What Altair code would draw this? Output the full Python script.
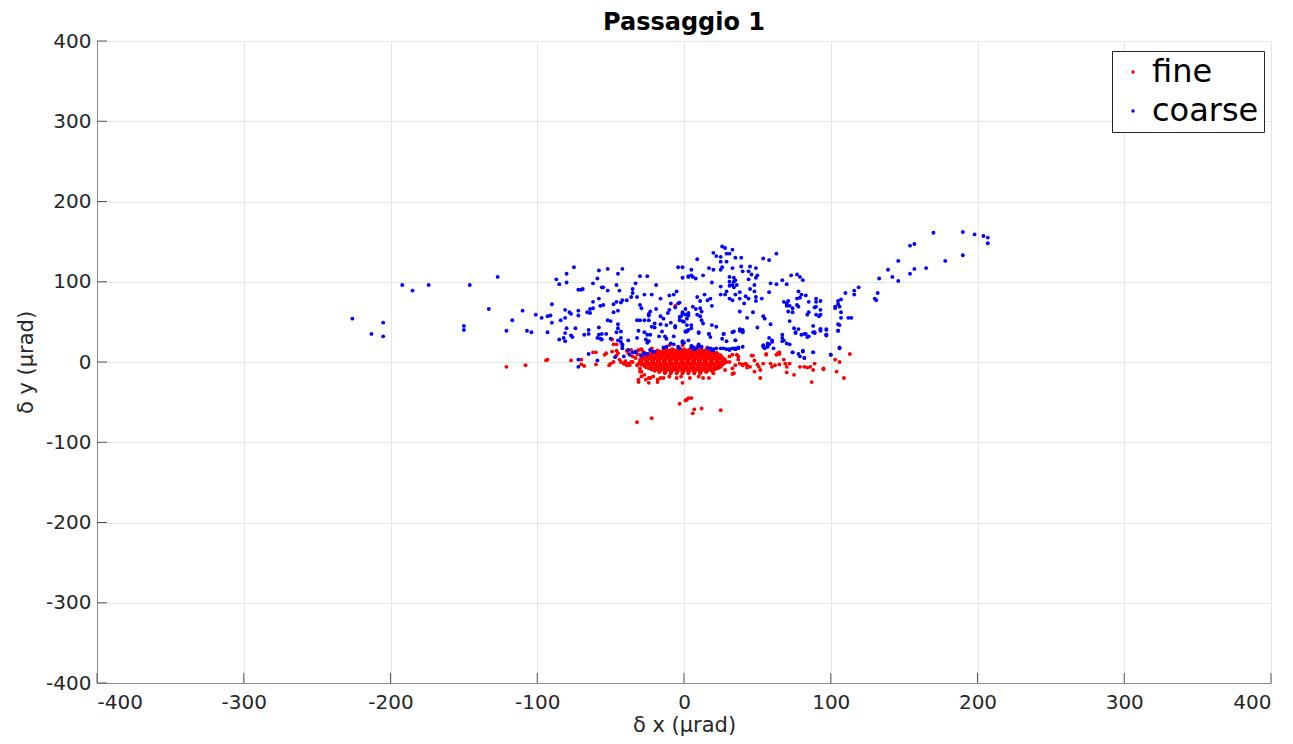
import altair as alt
import pandas as pd

# ---- coarse (blue) points ----
coarse_x = [
 -226,-205,-213,-205,-192,-185,-174,-146,-127,-150,-150,-133,-121,-117,-110,-107,-104,-101,-97,-93,-91,-90,-90,-93,
 -87,-85,-80,-80,-75,-72,-81,-78,-77,-72,-72,-84,-81,-80,-74,-81,-77,-76,-85,-82,-81,-72,-72,
 -58,-52,-42,-45,-30,-25,-4,-1,3,-59,-62,-56,-55,-70,-69,-52,-46,-44,-33,-35,-35,-32,-19,-27,-22,-16,-10,-7,-5,
 -58,-62,-55,-57,-46,-43,-42,-39,-36,-48,-64,-62,-66,-64,-45,-48,-30,-29,-24,-23,-24,-19,-16,-14,-11,-10,-9,-6,-4,-3,
 -1,1,3,3,-2,-1,-3,-32,-30,-27,-24,-20,-22,-20,-16,-12,-9,-6,-6,2,3,1,-52,-50,-45,-45,-43,-46,-58,-68,-65,-65,-58,-59,
 -56,-53,-57,-56,-50,-45,-43,-38,-43,-42,-42,-31,-27,-25,-23,-26,-24,-25,-32,-17,-15,-13,-12,-7,-9,-38,-35,-33,-29,-37,
 -65,-59,-47,-42,-41,-33,-27,-25,-23,-20,-14,-12,-7,-4,0,-3,
 9,20,22,26,28,33,31,29,25,25,29,35,39,54,58,63,5,5,3,6,8,-1,13,17,20,25,26,33,39,40,45,44,46,49,50,49,44,19,25,25,
 31,34,31,34,36,33,31,34,35,29,28,31,33,35,38,38,42,41,44,45,48,48,49,49,53,59,58,63,67,70,73,77,79,81,78,77,80,79,83,
 85,90,90,90,90,92,93,68,70,71,70,70,72,71,74,74,77,78,84,85,89,72,75,76,78,83,85,89,88,93,97,97,67,67,68,70,72,67,
 74,78,81,88,82,58,57,60,61,57,54,55,50,54,55,59,47,38,40,40,33,27,29,38,35,22,19,17,22,31,33,35,27,9,11,14,16,18,19,
 11,12,11,12,13,6,8,9,2,5,1,0,5,2,10,-1,-3,-1,3,6,10,12,16,19,43,
 1,10,17,18,27,26,34,38,40,35,25,31,35,37,40,54,57,58,60,76,80,84,82,88,89,93,97,105,74,79,81,88,100,106,-1,5,8,10,20,18,
 170,190,198,204,207,207,190,178,154,157,146,139,142,146,154,157,165,133,119,116,116,110,107,105,105,103,103,106,107,
 107,112,114,105,106,105,97,97,93,93,93,132,130,131,106,100,
 -27,-21,-1,5,7,20,29,35,37,
]
coarse_y = [
 54,49,35,32,96,89,96,96,106,45,40,66,39,52,64,39,37,59,55,57,58,72,49,37,
 103,97,110,99,118,90,65,62,60,64,58,52,55,42,42,36,33,31,28,30,26,3,-6,
 114,116,116,110,107,107,118,118,107,104,98,93,93,90,91,89,96,89,98,91,86,81,96,84,84,79,83,84,88,
 79,75,71,70,75,74,77,77,81,72,66,67,62,61,64,62,71,67,60,63,58,66,57,54,61,65,73,68,73,74,
 62,66,61,58,57,51,52,52,52,52,52,48,44,43,47,46,49,45,43,46,40,38,52,51,47,42,38,37,43,34,40,35,34,30,
 35,35,29,28,29,27,30,27,25,22,17,39,37,34,34,28,26,24,30,32,38,32,29,32,23,15,12,13,8,9,
 10,2,6,20,7,12,11,10,15,13,18,19,22,19,24,17,
 128,136,132,144,142,140,135,135,131,125,125,130,130,129,127,135,115,108,106,106,104,105,108,117,115,115,118,117,119,113,
 119,113,109,117,108,105,103,99,94,84,
 106,105,100,100,96,96,95,93,102,88,84,79,77,84,87,79,82,73,79,91,96,88,81,76,79,98,87,97,102,97,108,109,106,102,88,
 79,84,80,83,75,79,75,69,59,57,65,75,73,76,70,71,70,63,62,67,71,69,59,62,68,51,42,36,41,35,32,37,45,41,40,34,34,30,27,
 23,22,26,12,10,14,12,5,30,23,25,17,19,21,17,43,57,54,47,62,41,40,38,37,35,26,63,27,44,46,35,17,15,17,17,17,81,76,84,
 77,79,70,67,63,57,52,48,69,66,59,54,46,59,50,42,38,36,60,56,26,27,19,19,19,17,15,55,
 38,37,35,31,35,29,38,39,37,27,17,16,16,18,19,19,21,22,27,37,34,31,35,37,36,39,34,39,12,7,13,12,9,18,24,20,17,22,16,17,
 161,162,159,157,155,148,133,126,145,147,126,115,106,101,110,116,117,104,93,89,84,86,78,76,72,69,67,69,62,
 55,55,55,47,46,39,41,33,76,59,41,86,79,77,17,9,
 11,13,25,18,16,15,16,16,17,
]

# ---- fine (red) points: dense core, one list of x values per row ----
fine_core_y = [16, 14.5, 13, 11.5, 10, 8.5, 7, 5.5, 4, 2.5, 1, -0.5, -2, -3.5, -5, -6.5, -8, -9.5, -11, -12.5, -14]
fine_core_x = [
 [-12,-8,-4,0,4,8,12],
 [-18,-14,-10,-6,-2,2,6,10,14,18],
 [-20,-16,-12,-8,-4,0,4,8,12,16,20],
 [-22,-18,-14,-10,-6,-2,2,6,10,14,18,22],
 [-24,-20,-16,-12,-8,-4,0,4,8,12,16,20,23],
 [-26,-22,-18,-14,-10,-6,-2,2,6,10,14,18,22,25],
 [-27,-23,-19,-15,-11,-7,-3,1,5,9,13,17,21,25],
 [-29,-25,-21,-17,-13,-9,-5,-1,3,7,11,15,19,23,26],
 [-28,-24,-20,-16,-12,-8,-4,0,4,8,12,16,20,24,27],
 [-30,-26,-22,-18,-14,-10,-6,-2,2,6,10,14,18,22,26,28],
 [-29,-25,-21,-17,-13,-9,-5,-1,3,7,11,15,19,23,27],
 [-30,-26,-22,-18,-14,-10,-6,-2,2,6,10,14,18,22,25,28],
 [-28,-24,-20,-16,-12,-8,-4,0,4,8,12,16,20,24,27],
 [-29,-25,-21,-17,-13,-9,-5,-1,3,7,11,15,19,23,26],
 [-27,-23,-19,-15,-11,-7,-3,1,5,9,13,17,21,25],
 [-26,-22,-18,-14,-10,-6,-2,2,6,10,14,18,22,24],
 [-24,-20,-16,-12,-8,-4,0,4,8,12,16,20,23],
 [-22,-18,-14,-10,-6,-2,2,6,10,14,18,21],
 [-20,-16,-12,-8,-4,0,4,8,12,16,19],
 [-17,-13,-9,-5,-1,3,7,11,15],
 [-13,-9,-5,-1,3,7,11],
]
# ---- fine (red) scattered points ----
fine_x = [
 -121,-108,-94,-93,-77,-70,-70,-68,-60,-54,-60,-51,-50,-48,-48,-46,-46,-45,-43,-41,-40,-38,-39,-38,-36,-35,-32,-33,-31,-29,
 -37,-35,-32,-30,-29,-31,-26,-24,-24,-18,-16,-1,3,2,-3,-22,-32,-49,-46,-62,-53,-49,-6,
 47,56,64,65,27,29,31,33,36,37,38,40,42,43,45,46,48,50,51,52,48,52,33,33,54,56,59,60,62,63,65,65,68,69,70,72,70,75,
 79,82,84,86,88,89,82,87,95,103,106,104,109,113,95,
 5,1,7,6,12,25,
 -44,-41,-39,-36,-33,-31,-30,-29,-31,-27,-23,-21,-18,-14,-10,-5,-2,4,10,13,17,20,25,27,28,31,35,37,40,43,34,-30,-28,
 -23,-22,20,22,25,-10,-1,9,16,
]
fine_y = [
 -6,-4,2,3,2,3,-3,-5,12,9,-3,-4,-2,0,22,14,8,11,0,-2,1,-2,14,11,15,7,10,13,15,16,
 -4,0,-4,-12,-18,-25,-22,-26,-20,-25,-20,-26,-45,-47,-52,-70,-75,28,22,12,11,13,70,
 8,10,11,12,3,0,7,9,9,3,-2,-4,-2,-4,-6,8,2,-3,-6,-10,-12,-20,-8,-15,-2,9,-2,-6,-4,9,10,-3,3,-2,-6,-2,-13,-16,
 -6,-6,-7,-6,-10,-2,5,-25,-9,3,0,-12,-20,10,-8,
 -45,-48,-59,-64,-58,-60,
 3,-2,-4,0,5,-2,-8,-12,-22,-16,-20,-18,-22,-20,-18,-20,-18,-20,-18,-20,-20,-14,-6,-2,-10,0,-4,7,-3,-7,-14,9,13,
 15,17,11,9,5,21,21,19,18,
]

ticks = [-400, -300, -200, -100, 0, 100, 200, 300, 400]
x_title = "δ x (μrad)"
y_title = "δ y (μrad)"

rows = []
for yv, xs in zip(fine_core_y, fine_core_x):
    for xv in xs:
        rows.append({"x": xv, "y": yv, "series": "fine"})
for xv, yv in zip(fine_x, fine_y):
    rows.append({"x": xv, "y": yv, "series": "fine"})
for xv, yv in zip(coarse_x, coarse_y):
    rows.append({"x": xv, "y": yv, "series": "coarse"})
df = pd.DataFrame(rows)
tick_df = pd.DataFrame({"v": ticks})

W, H = 1174, 642
label_expr = "datum.value < 0 ? '-' + abs(datum.value) : '' + datum.value"
xscale = alt.Scale(domain=[-400, 400], nice=False, zero=False)
yscale = alt.Scale(domain=[-400, 400], nice=False, zero=False)
xaxis = alt.Axis(values=ticks, grid=True, labelPadding=9, titlePadding=2, labelExpr=label_expr)
yaxis = alt.Axis(values=ticks, grid=True, labelPadding=6, titlePadding=9, labelExpr=label_expr)

points = alt.Chart(df).mark_circle(size=15, opacity=1).encode(
    x=alt.X("x:Q", scale=xscale, axis=xaxis, title=x_title),
    y=alt.Y("y:Q", scale=yscale, axis=yaxis, title=y_title),
    color=alt.Color("series:N",
                    scale=alt.Scale(domain=["fine", "coarse"], range=["#ff0000", "#0000ff"]),
                    legend=alt.Legend(title=None, orient="none", legendX=1015, legendY=10,
                                      fillColor="white", strokeColor="#262626",
                                      padding=5, rowPadding=7,
                                      labelFontSize=32, labelFont="DejaVu Sans", labelColor="#000000",
                                      symbolType="circle", symbolSize=12, symbolStrokeWidth=0,
                                      symbolOffset=0, labelOffset=3, labelLimit=300)),
)

xt = alt.Chart(tick_df).mark_rule(color="#555555", strokeWidth=1).encode(
    x=alt.X("v:Q", scale=xscale, axis=xaxis, title=x_title),
    y=alt.value(H), y2=alt.value(H - 10),
)
yt = alt.Chart(tick_df).mark_rule(color="#555555", strokeWidth=1).encode(
    y=alt.Y("v:Q", scale=yscale, axis=yaxis, title=y_title),
    x=alt.value(0), x2=alt.value(10),
)

chart = alt.layer(points, xt, yt).properties(
    width=W, height=H,
    title=alt.TitleParams("Passaggio 1", font="DejaVu Sans", fontSize=24, fontWeight="bold",
                          color="#000000", anchor="middle", offset=-4),
    autosize=alt.AutoSizeParams(type="none"),
    padding={"left": 89, "top": 33, "right": 12, "bottom": 53},
).configure_axis(
    gridColor="#e6e6e6", domainColor="#8c8c8c", tickSize=0,
    labelFont="DejaVu Sans", labelFontSize=20, labelColor="#262626",
    titleFont="DejaVu Sans", titleFontSize=21, titleFontWeight="normal", titleColor="#262626",
).configure_view(stroke=None)

chart.save("out.html", embed_options={"renderer": "svg", "actions": False})
